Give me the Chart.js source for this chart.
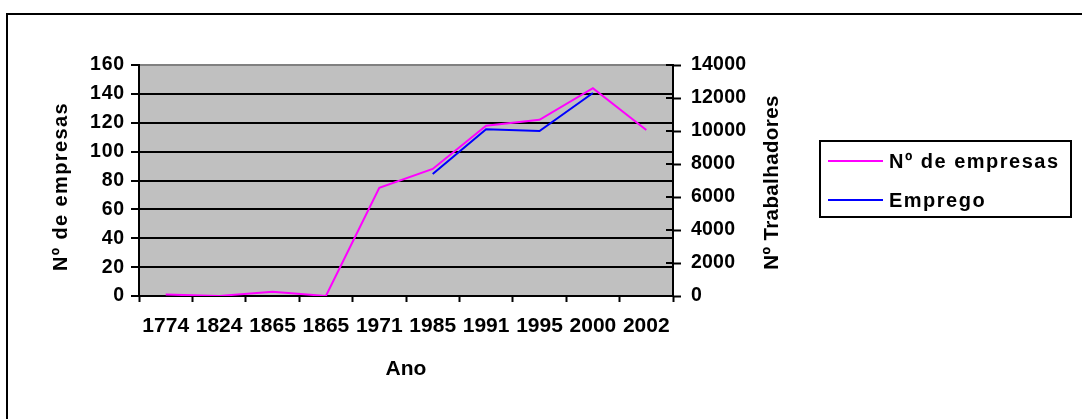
<!DOCTYPE html>
<html lang="pt">
<head>
<meta charset="utf-8">
<title>Nº de empresas e Emprego</title>
<script src="https://cdn.jsdelivr.net/npm/chart.js@4.4.1/dist/chart.umd.min.js"></script>
<style>
  html, body { margin: 0; padding: 0; background: #fff; }
  canvas { display: block; }
</style>
</head>
<body>
<canvas id="chart" width="1082" height="419"></canvas>
<script>
// Categorias (anos) e séries
const anos = ['1774', '1824', '1865', '1865', '1971', '1985', '1991', '1995', '2000', '2002'];
const empresas = [1, 0, 3, 0, 75, 88, 118, 122, 144, 115];
const emprego = [null, null, null, null, null, 7400, 10100, 10000, 12300, null];
const nomesSeries = ['Nº de empresas', 'Emprego'];
const coresSeries = ['#ff00ff', '#0000ff'];

// Eixos
const eixoEmpresas = { min: 0, max: 160, step: 20 };
const eixoEmprego = { min: 0, max: 14000, step: 2000 };
const tituloEmpresas = 'Nº de empresas';
const tituloTrabalhadores = 'Nº Trabalhadores';
const tituloAno = 'Ano';

const FONT = "'Liberation Sans', Arial, sans-serif";

// Fundo branco, moldura exterior e fundo cinzento da área de desenho
const framePlugin = {
  id: 'frame',
  beforeDraw(chart) {
    const { ctx, chartArea: a } = chart;
    ctx.save();
    ctx.fillStyle = '#ffffff';
    ctx.fillRect(0, 0, chart.width, chart.height);
    ctx.strokeStyle = '#000000';
    ctx.lineWidth = 2;
    ctx.strokeRect(7, 14, chart.width + 20, chart.height + 20);
    ctx.fillStyle = '#c0c0c0';
    ctx.fillRect(a.left, a.top, a.right - a.left, a.bottom - a.top);
    ctx.restore();
  }
};

// Espaçamento entre letras nos rótulos dos eixos verticais
const spacedLabels = {
  id: 'spacedLabels',
  beforeDraw(chart, args, opts) {
    for (const [id, sp] of Object.entries(opts.spacing || {})) {
      const scale = chart.scales[id];
      if (!scale || scale._spacedLabels) continue;
      const orig = scale.drawLabels;
      scale.drawLabels = function (area) {
        const c = this.ctx;
        c.save();
        c.letterSpacing = sp + 'px';
        orig.call(this, area);
        c.restore();
      };
      scale._spacedLabels = true;
    }
  }
};

// Marcas do eixo direito que atravessam a linha do eixo
const innerTicks = {
  id: 'innerTicks',
  beforeDatasetsDraw(chart) {
    const scale = chart.scales.y2;
    const a = chart.chartArea;
    const ctx = chart.ctx;
    ctx.save();
    ctx.strokeStyle = '#000000';
    ctx.lineWidth = 2;
    ctx.beginPath();
    for (const t of scale.ticks) {
      const y = Math.round(scale.getPixelForValue(t.value));
      ctx.moveTo(a.right - 7, y);
      ctx.lineTo(a.right, y);
    }
    ctx.stroke();
    ctx.restore();
  }
};

// Títulos verticais dos dois eixos (lidos de baixo para cima)
const verticalTitles = {
  id: 'verticalTitles',
  afterDraw(chart, args, opts) {
    const ctx = chart.ctx;
    const a = chart.chartArea;
    for (const t of opts.items) {
      const scale = chart.scales[t.scale];
      const x = scale.position === 'left' ? scale.left + t.offset : scale.right - t.offset;
      ctx.save();
      ctx.font = `bold ${t.size}px ${FONT}`;
      ctx.letterSpacing = t.spacing + 'px';
      ctx.fillStyle = '#000000';
      ctx.textAlign = 'center';
      ctx.textBaseline = 'middle';
      ctx.translate(x, (a.top + a.bottom) / 2 + t.dy);
      ctx.rotate(-Math.PI / 2);
      ctx.fillText(t.text, 0, 0);
      ctx.restore();
    }
  }
};

// Legenda com caixa, à direita do gráfico
const boxLegend = {
  id: 'boxLegend',
  afterDraw(chart, args, o) {
    const ctx = chart.ctx;
    ctx.save();
    ctx.strokeStyle = '#000000';
    ctx.lineWidth = 2;
    ctx.strokeRect(o.x, o.y, o.w, o.h);
    ctx.font = `bold ${o.size}px ${FONT}`;
    ctx.letterSpacing = o.spacing + 'px';
    ctx.textBaseline = 'middle';
    ctx.textAlign = 'left';
    chart.data.datasets.forEach((ds, i) => {
      const y = o.y + o.firstRow + i * o.rowGap;
      ctx.strokeStyle = ds.borderColor;
      ctx.lineWidth = 2;
      ctx.beginPath();
      ctx.moveTo(o.x + 8, y);
      ctx.lineTo(o.x + 63, y);
      ctx.stroke();
      ctx.fillStyle = '#000000';
      ctx.fillText(ds.label, o.x + 69, y + 1);
    });
    ctx.restore();
  }
};

const boldFont = size => ({ family: FONT, size, weight: 'bold' });

new Chart(document.getElementById('chart'), {
  type: 'line',
  data: {
    labels: anos,
    datasets: [
      {
        label: nomesSeries[0],
        data: empresas,
        yAxisID: 'y',
        borderColor: coresSeries[0],
        borderWidth: 2,
        pointRadius: 0,
        tension: 0,
        fill: false
      },
      {
        label: nomesSeries[1],
        data: emprego,
        yAxisID: 'y2',
        borderColor: coresSeries[1],
        borderWidth: 2,
        pointRadius: 0,
        tension: 0,
        fill: false
      }
    ]
  },
  options: {
    responsive: false,
    animation: false,
    devicePixelRatio: 1,
    layout: { padding: { left: 45, right: 292, top: 65, bottom: 30 } },
    scales: {
      x: {
        offset: true,
        grid: { offset: true, drawOnChartArea: false, tickLength: 6, tickColor: '#000', tickWidth: 2 },
        border: { color: '#000', width: 2 },
        ticks: { color: '#000', font: boldFont(21), padding: 12, maxRotation: 0, autoSkip: false },
        title: { display: true, text: tituloAno, color: '#000', font: boldFont(21), padding: { top: 0, bottom: 7 } },
        afterFit: s => { s.height = 93; }
      },
      y: {
        position: 'left',
        min: eixoEmpresas.min,
        max: eixoEmpresas.max,
        ticks: { stepSize: eixoEmpresas.step, color: '#000', font: boldFont(19.5), padding: 6, callback: v => String(v) },
        grid: {
          color: c => (c.tick && c.tick.value === eixoEmpresas.max ? '#808080' : '#000'),
          lineWidth: 2,
          tickLength: 8,
          tickColor: '#000',
          tickWidth: 2
        },
        border: { color: '#000', width: 2 },
        title: { display: false, text: tituloEmpresas },
        afterFit: s => { s.width = 94; }
      },
      y2: {
        position: 'right',
        min: eixoEmprego.min,
        max: eixoEmprego.max,
        ticks: { stepSize: eixoEmprego.step, color: '#000', font: boldFont(19.5), padding: 10, callback: v => String(v) },
        grid: { drawOnChartArea: false, tickLength: 8, tickColor: '#000', tickWidth: 2 },
        border: { color: '#000', width: 2 },
        title: { display: false, text: tituloTrabalhadores },
        afterFit: s => { s.width = 117; }
      }
    },
    plugins: {
      legend: { display: false },
      tooltip: { enabled: false },
      spacedLabels: { spacing: { y: 0.8, y2: 0.2 } },
      verticalTitles: {
        items: [
          { scale: 'y', text: tituloEmpresas, size: 20, spacing: 1.4, offset: 16.5, dy: 6 },
          { scale: 'y2', text: tituloTrabalhadores, size: 20.5, spacing: 0.4, offset: 18, dy: 2 }
        ]
      },
      boxLegend: { x: 820, y: 141, w: 251, h: 76, firstRow: 20, rowGap: 39, size: 20, spacing: 1.5 }
    }
  },
  plugins: [framePlugin, spacedLabels, innerTicks, verticalTitles, boxLegend]
});
</script>
</body>
</html>
